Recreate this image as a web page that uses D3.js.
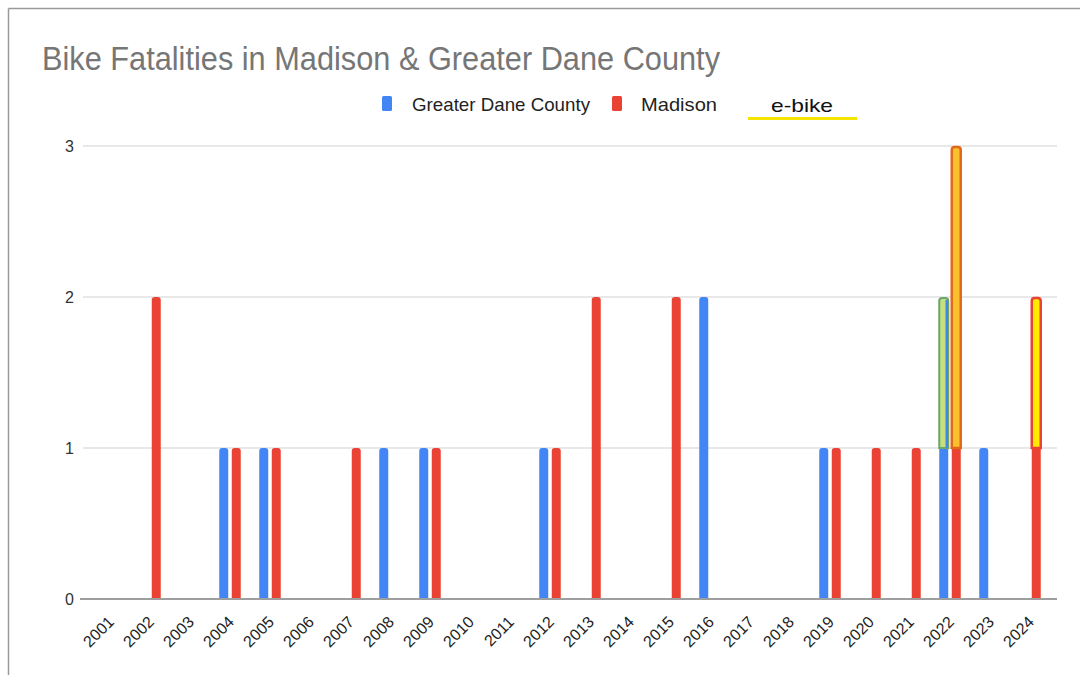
<!DOCTYPE html>
<html>
<head>
<meta charset="utf-8">
<script src="https://cdn.jsdelivr.net/npm/d3@7"></script>
<style>
  html, body { margin: 0; padding: 0; background: #fff; }
  svg { display: block; }
  text { font-family: "Liberation Sans", Arial, sans-serif; }
</style>
</head>
<body>
<script>
// ---- data ----
const years = ["2001","2002","2003","2004","2005","2006","2007","2008","2009","2010","2011","2012",
               "2013","2014","2015","2016","2017","2018","2019","2020","2021","2022","2023","2024"];
const greaterDane = [0,0,0,1,1,0,0,1,1,0,0,1,0,0,0,2,0,0,1,0,0,1,1,0];
const madison     = [0,2,0,1,1,0,1,0,1,0,0,1,2,0,2,0,0,0,1,1,1,1,0,1];
const ebikeDane     = [0,0,0,0,0,0,0,0,0,0,0,0,0,0,0,0,0,0,0,0,0,1,0,0];
const ebikeMadison  = [0,0,0,0,0,0,0,0,0,0,0,0,0,0,0,0,0,0,0,0,0,2,0,1];
const yTicks = [0,1,2,3];
const seriesNames = ["Greater Dane County", "Madison", "e-bike"];
const title = "Bike Fatalities in Madison & Greater Dane County";

// ---- styles ----
const BLUE = "#4285f4", RED = "#ea4335";

const W = 1080, H = 675;
const svg = d3.select("body").append("svg").attr("width", W).attr("height", H);

// frame
svg.append("line").attr("x1", 8.5).attr("x2", W).attr("y1", 8.5).attr("y2", 8.5).attr("stroke", "#9a9a9a").attr("stroke-width", 1.5);
svg.append("line").attr("x1", 8.5).attr("x2", 8.5).attr("y1", 8.5).attr("y2", H).attr("stroke", "#9a9a9a").attr("stroke-width", 1.5);

const x = d3.scaleBand().domain(years).range([90, 1050]);
const y = d3.scaleLinear().domain([0, 3]).range([599, 146]);

// title
svg.append("text").attr("x", 42).attr("y", 70).attr("font-size", 33).attr("fill", "#767676")
  .attr("textLength", 678).attr("lengthAdjust", "spacingAndGlyphs")
  .text(title);

// grid
svg.append("g").selectAll("line").data(yTicks.filter(d => d > 0)).join("line")
  .attr("x1", 83).attr("x2", 1057).attr("y1", d => y(d)).attr("y2", d => y(d))
  .attr("stroke", "#e0e0e0").attr("stroke-width", 1.5);

// y labels
svg.append("g").selectAll("text").data(yTicks).join("text")
  .attr("x", 74).attr("y", d => y(d) + 6).attr("text-anchor", "end")
  .attr("font-size", 16).attr("fill", "#333").text(d => d);

const BW = 9, OFF = 6.25, R = 3;
function barPath(cx, y0, y1) {
  const l = cx - BW / 2, r = cx + BW / 2;
  return `M${l},${y0}V${y1 + R}Q${l},${y1} ${l + R},${y1}H${r - R}Q${r},${y1} ${r},${y1 + R}V${y0}Z`;
}
function flatPath(cx, y0, y1) {
  const l = cx - BW / 2, r = cx + BW / 2;
  return `M${l},${y0}V${y1}H${r}V${y0}Z`;
}
const cen = yr => x(yr) + x.bandwidth() / 2;

const bars = svg.append("g");
years.forEach((yr, i) => {
  if (greaterDane[i] > 0) {
    const cx = cen(yr) - OFF;
    bars.append("path").attr("d", ebikeDane[i] > 0 ? flatPath(cx, y(0), y(greaterDane[i])) : barPath(cx, y(0), y(greaterDane[i])))
      .attr("fill", BLUE);
  }
  if (madison[i] > 0) {
    const cx = cen(yr) + OFF;
    bars.append("path").attr("d", ebikeMadison[i] > 0 ? flatPath(cx, y(0), y(madison[i])) : barPath(cx, y(0), y(madison[i])))
      .attr("fill", RED);
  }
});
// e-bike stacked segments
const ebStyle = {
  dane: { fill: "#c5e07e", stroke: "#6aa56e" },
  madisonMulti: { fill: "#fbc02d", stroke: "#e06a1a" },
  madison: { fill: "#ffea00", stroke: "#ea4335" }
};
years.forEach((yr, i) => {
  if (ebikeDane[i] > 0) {
    const b = greaterDane[i], cx = cen(yr) - OFF;
    bars.append("path").attr("d", barPath(cx, y(b), y(b + ebikeDane[i]) + 1))
      .attr("fill", ebStyle.dane.fill).attr("stroke", ebStyle.dane.stroke).attr("stroke-width", 2);
    bars.append("line").attr("x1", cx + BW/2 - 1.5).attr("x2", cx + BW/2 - 1.5)
      .attr("y1", y(b)).attr("y2", y(b + ebikeDane[i]) + 3).attr("stroke", BLUE).attr("stroke-width", 2.5);
  }
  if (ebikeMadison[i] > 0) {
    const b = madison[i], cx = cen(yr) + OFF;
    const st = ebikeMadison[i] > 1 ? ebStyle.madisonMulti : ebStyle.madison;
    bars.append("path").attr("d", barPath(cx, y(b), y(b + ebikeMadison[i]) + 1))
      .attr("fill", st.fill).attr("stroke", st.stroke).attr("stroke-width", 2.5);
  }
});

// baseline
svg.append("line").attr("x1", 80).attr("x2", 1057).attr("y1", y(0)).attr("y2", y(0))
  .attr("stroke", "#9e9e9e").attr("stroke-width", 2);

// x labels
const xl = svg.append("g").selectAll("g").data(years).join("g")
  .attr("transform", d => `translate(${cen(d) + 1},${619})`);
xl.append("text")
  .attr("transform", "rotate(-45)")
  .attr("text-anchor", "end").attr("font-size", 16).attr("fill", "#222")
  .attr("dy", "0.35em")
  .text(d => d);

// legend
const lg = svg.append("g");
lg.append("rect").attr("x", 382).attr("y", 96).attr("width", 10).attr("height", 15).attr("rx", 1.5).attr("fill", BLUE);
lg.append("text").attr("x", 412).attr("y", 111).attr("font-size", 19).attr("fill", "#222")
  .attr("textLength", 178).attr("lengthAdjust", "spacingAndGlyphs").text(seriesNames[0]);
lg.append("rect").attr("x", 612).attr("y", 96).attr("width", 10).attr("height", 15).attr("rx", 1.5).attr("fill", RED);
lg.append("text").attr("x", 641).attr("y", 111).attr("font-size", 19).attr("fill", "#222")
  .attr("textLength", 76).attr("lengthAdjust", "spacingAndGlyphs").text(seriesNames[1]);
lg.append("text").attr("x", 771).attr("y", 112).attr("font-size", 19).attr("fill", "#111")
  .attr("textLength", 62).attr("lengthAdjust", "spacingAndGlyphs").text(seriesNames[2]);
lg.append("line").attr("x1", 748).attr("x2", 857).attr("y1", 118.5).attr("y2", 118.5).attr("stroke", "#f5e400").attr("stroke-width", 3);
</script>
</body>
</html>
